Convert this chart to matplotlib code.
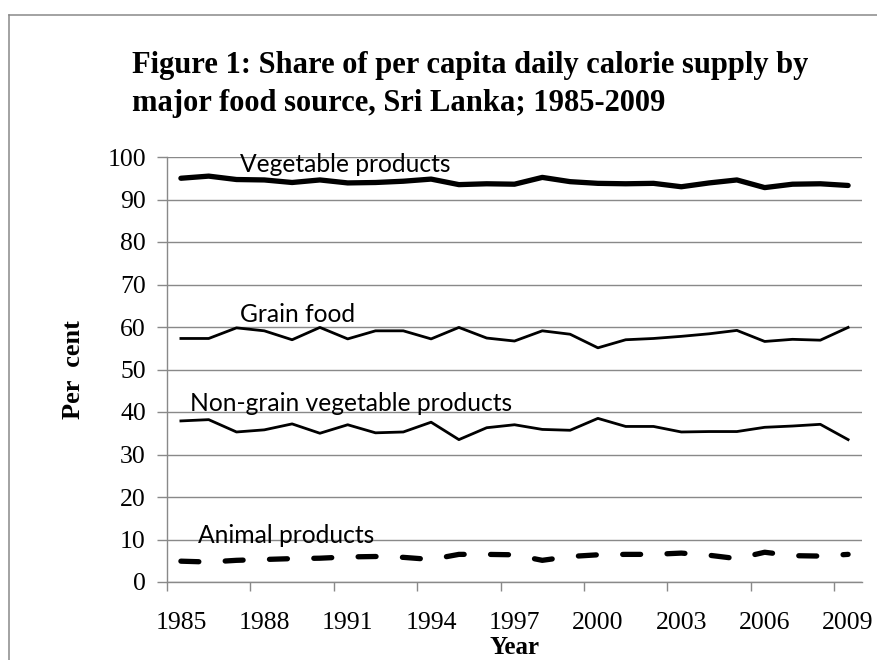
import matplotlib
matplotlib.use("Agg")
import matplotlib.pyplot as plt
from matplotlib.lines import Line2D

years = [1985, 1986, 1987, 1988, 1989, 1990, 1991, 1992, 1993, 1994, 1995, 1996,
         1997, 1998, 1999, 2000, 2001, 2002, 2003, 2004, 2005, 2006, 2007, 2008, 2009]

vegetable = [95.0, 95.5, 94.7, 94.6, 94.0, 94.6, 93.9, 94.0, 94.3, 94.8, 93.5, 93.7,
             93.6, 95.2, 94.2, 93.8, 93.7, 93.8, 93.0, 93.9, 94.6, 92.8, 93.6, 93.7, 93.3]
grain = [57.3, 57.3, 59.8, 59.1, 57.0, 59.9, 57.2, 59.1, 59.1, 57.2, 59.9, 57.4,
         56.7, 59.1, 58.3, 55.1, 57.0, 57.3, 57.8, 58.4, 59.2, 56.6, 57.1, 56.9, 59.9]
non_grain = [37.9, 38.2, 35.3, 35.8, 37.2, 35.0, 37.0, 35.1, 35.3, 37.6, 33.5, 36.3,
             37.0, 35.9, 35.7, 38.5, 36.6, 36.6, 35.3, 35.4, 35.4, 36.4, 36.7, 37.1, 33.5]
animal = [4.9, 4.7, 5.1, 5.3, 5.5, 5.6, 5.9, 6.0, 5.8, 5.3, 6.5, 6.5,
          6.4, 5.1, 6.0, 6.4, 6.5, 6.5, 6.8, 6.3, 5.5, 7.0, 6.2, 6.1, 6.5]

tick_years = [1985, 1988, 1991, 1994, 1997, 2000, 2003, 2006, 2009]
y_ticks = [0, 10, 20, 30, 40, 50, 60, 70, 80, 90, 100]

GREY = "#898989"
SERIF = "Liberation Serif"
SANS = "Lato"

fig = plt.figure(figsize=(8.78, 6.6), dpi=100)
ax = fig.add_axes([167 / 878, 1 - 582 / 660, 695 / 878, 425 / 660])

# outer chart border (top and left edges only show)
fig.add_artist(Line2D([9 / 878, 9 / 878], [-0.05, 1 - 15 / 660], color=GREY, lw=1.1))
fig.add_artist(Line2D([9 / 878, 1.05], [1 - 15 / 660, 1 - 15 / 660], color=GREY, lw=1.1))

fig.text(132 / 878, 1 - 73 / 660, "Figure 1: Share of per capita daily calorie supply by",
         family=SERIF, fontweight="bold", fontsize=22, va="baseline", ha="left")
fig.text(132 / 878, 1 - 111 / 660, "major food source, Sri Lanka; 1985-2009",
         family=SERIF, fontweight="bold", fontsize=22, va="baseline", ha="left")

ax.plot(years, vegetable, color="black", lw=3.8, solid_capstyle="round", solid_joinstyle="round")
ax.plot(years, grain, color="black", lw=2.0, solid_joinstyle="round")
ax.plot(years, non_grain, color="black", lw=2.0, solid_joinstyle="round")
ax.plot(years, animal, color="black", lw=3.8, dashes=(3.4, 5.0), dash_capstyle="round")

ax.text(1987.13, 96.5, "Vegetable products", family=SANS, fontsize=17.7, va="baseline")
ax.text(1987.13, 61.2, "Grain food", family=SANS, fontsize=17.7, va="baseline")
ax.text(1985.33, 40.3, "Non-grain vegetable products", family=SANS, fontsize=17.7, va="baseline")
ax.text(1985.6, 9.2, "Animal products", family=SANS, fontsize=17.7, va="baseline")

ax.set_xlim(1984.5, 2009.5)
ax.set_ylim(0, 100)

# ticks sit between categories, labels on the categories
ax.set_xticks([y - 0.5 for y in tick_years])
ax.set_xticklabels([])
ax.set_xticks(tick_years, minor=True)
ax.set_xticklabels([str(y) for y in tick_years], minor=True, family=SERIF, fontsize=18.5)
ax.tick_params(axis="x", which="major", direction="out", length=6.5, width=1.0, color=GREY)
ax.tick_params(axis="x", which="minor", length=0, pad=21.5)

ax.set_yticks(y_ticks)
ax.set_yticklabels([str(v) for v in y_ticks], family=SERIF, fontsize=18.5)
ax.tick_params(axis="y", direction="out", length=7.2, width=1.0, color=GREY, pad=8)

ax.grid(axis="y", color=GREY, lw=1.0)
ax.set_axisbelow(True)
for side in ["top", "right"]:
    ax.spines[side].set_visible(False)
for side in ["left", "bottom"]:
    ax.spines[side].set_color(GREY)
    ax.spines[side].set_linewidth(1.0)

ax.set_ylabel("Per  cent", family=SERIF, fontweight="bold", fontsize=19, va="center")
ax.yaxis.set_label_coords(-0.135, 0.5)
ax.set_xlabel("Year", family=SERIF, fontweight="bold", fontsize=18, va="center")
ax.xaxis.set_label_coords(0.5, -0.155)

fig.savefig("out.png", dpi=100)
